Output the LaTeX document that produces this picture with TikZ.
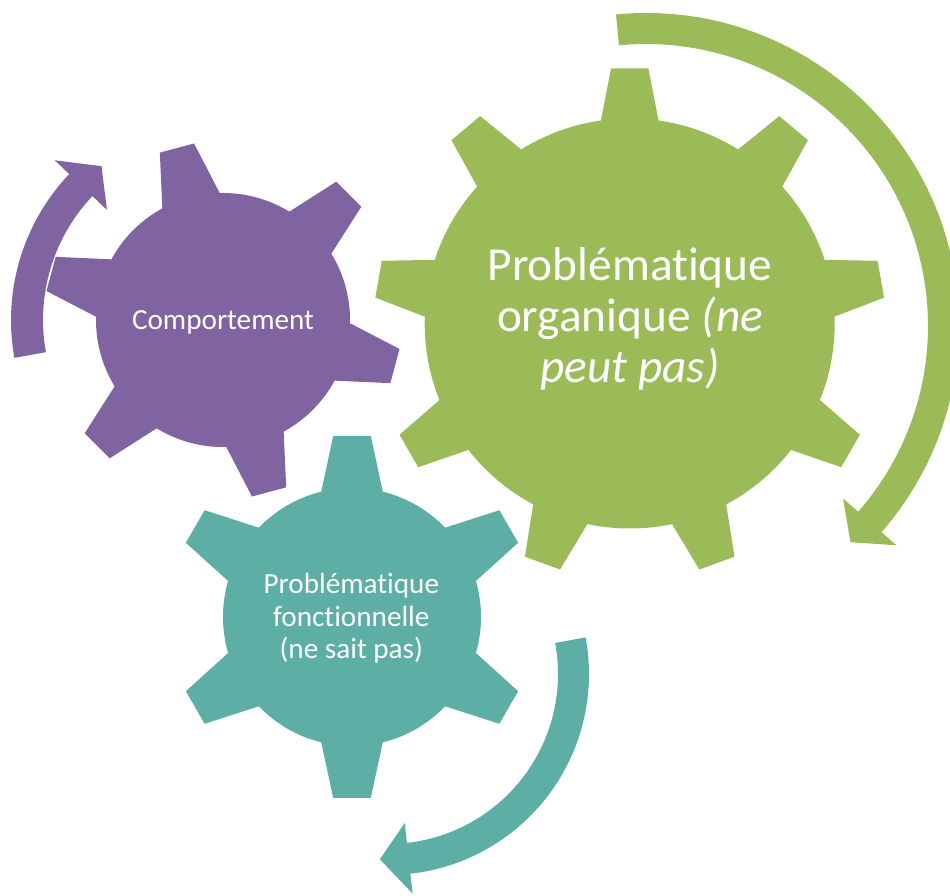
\documentclass[tikz,border=0pt]{standalone}
\usepackage{fontspec}
\setmainfont{Carlito}[RawFeature={-liga;-clig;-calt}]
\definecolor{gearGreen}{HTML}{9BBB59}
\definecolor{gearPurple}{HTML}{8064A2}
\definecolor{gearTeal}{HTML}{5DAFA6}

\begin{document}
\begin{tikzpicture}[x=0.75pt,y=0.75pt,
  gearText/.style={text=white,inner sep=0pt,align=center}]

\useasboundingbox (0,0) rectangle (950,896);

% Green turning arrow
\fill[gearGreen,shift={(646,570)}] (95.5:313) arc[start angle=95.5,end angle=-41.2,radius=313]
  -- (-41.2:333) -- (-46.6:297.5) -- (-41.2:262) -- (-41.2:282)
  arc[start angle=-41.2,end angle=95.5,radius=282] -- cycle;

% Purple turning arrow
\fill[gearPurple,shift={(223,576)}] (190.3:212) arc[start angle=190.3,end angle=136.5,radius=212]
  -- (136.5:232) -- (128.3:196) -- (136.5:160) -- (136.5:180)
  arc[start angle=136.5,end angle=190.3,radius=180] -- cycle;

% Teal turning arrow
\fill[gearTeal,shift={(388,222)}] (10.5:201) arc[start angle=10.5,end angle=-83.6,radius=201]
  -- (-83.6:221) -- (-92.5:185.5) -- (-83.6:150) -- (-83.6:170)
  arc[start angle=-83.6,end angle=10.5,radius=170] -- cycle;

% Green gear
\fill[gearGreen] (629.7,572.5) circle[radius=205];
\foreach \a in {90,130,...,410}
  \fill[gearGreen,shift={(629.7,572.5)},rotate=\a] (197,-30) -- (255,-18.7) -- (255,18.7) -- (197,30) -- cycle;

% Purple gear
\fill[gearPurple] (223,576) circle[radius=127];
\foreach \a in {105,165,...,405}
  \fill[gearPurple,shift={(223,576)},rotate=\a] (119,-30.7) -- (178,-17.7) -- (178,17.7) -- (119,30.7) -- cycle;

% Teal gear
\fill[gearTeal] (352,279) circle[radius=129];
\foreach \a in {90,150,...,390}
  \fill[gearTeal,shift={(352,279)},rotate=\a] (121,-31.7) -- (181,-18.8) -- (181,18.8) -- (121,31.7) -- cycle;

% Texts
\node[gearText,font=\fontsize{35.5}{38.3}\selectfont] (organique) at (630,577)
  {Problématique\\organique \textit{(ne}\\\textit{peut pas)}};
\node[gearText,font=\fontsize{21.9}{24.4}\selectfont] (comport) at (223,573.7) {Comportement};
\node[gearText,font=\fontsize{21.9}{24.4}\selectfont] (fonction) at (351.3,277.5)
  {Problématique\\fonctionnelle\\(ne sait pas)};

\end{tikzpicture}
\end{document}
